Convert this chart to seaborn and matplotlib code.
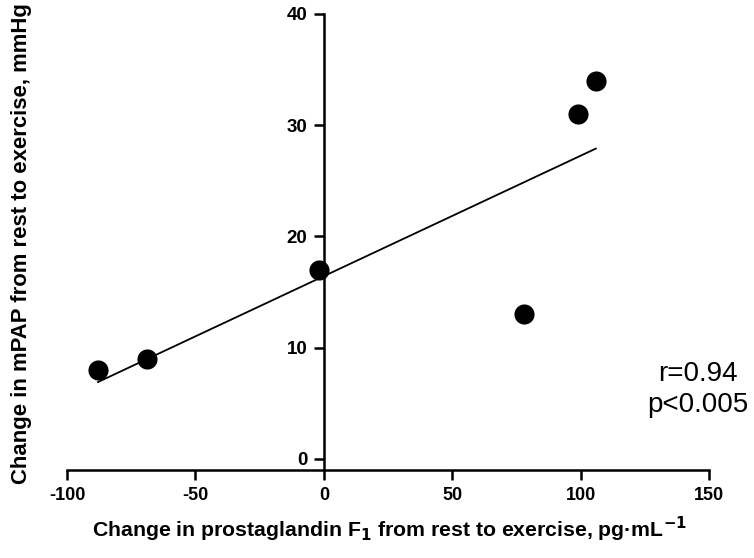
import matplotlib
matplotlib.use("Agg")
import matplotlib.pyplot as plt
import seaborn as sns
import pandas as pd

# Change from rest to exercise, one point per subject
pgf1_change = [-88, -69, -2, 78, 99, 106]
mpap_change = [8, 9, 17, 13, 31, 34]
x_ticks = [-100, -50, 0, 50, 100, 150]
y_ticks = [0, 10, 20, 30, 40]

df = pd.DataFrame({"pgf1": pgf1_change, "mpap": mpap_change})

sns.set_style("white")
plt.rcParams["font.family"] = ["Liberation Sans", "DejaVu Sans"]
plt.rcParams["mathtext.default"] = "bf"
plt.rcParams["axes.unicode_minus"] = False
plt.rcParams["text.color"] = "black"
plt.rcParams["xtick.color"] = "black"
plt.rcParams["ytick.color"] = "black"

fig = plt.figure(figsize=(7.54, 5.58), dpi=100)
ax = fig.add_axes([0.0889, 0.1577, 0.8515, 0.8173])

sns.regplot(data=df, x="pgf1", y="mpap", ax=ax, ci=None, truncate=True,
            scatter_kws={"s": 210, "color": "black", "edgecolor": "black",
                         "linewidths": 0, "alpha": 1, "zorder": 3},
            line_kws={"color": "black", "linewidth": 1.3})

ax.set_xlim(-100, 150)
ax.set_ylim(-1, 40)
ax.set_xticks(x_ticks)
ax.set_yticks(y_ticks)

for side in ("top", "right"):
    ax.spines[side].set_visible(False)
ax.spines["left"].set_position(("data", 0))
ax.spines["left"].set_bounds(-1, 40)
for side in ("left", "bottom"):
    ax.spines[side].set_linewidth(1.8)
    ax.spines[side].set_color("black")
ax.tick_params(axis="both", which="major", direction="out", length=7,
               width=1.8, color="black", labelcolor="black",
               bottom=True, left=True)
ax.tick_params(axis="y", pad=5, labelsize=13.5)
ax.tick_params(axis="x", pad=5, labelsize=13)
ax.set_xlabel("")
ax.set_ylabel("")

fig.canvas.draw()
for lbl in ax.get_xticklabels() + ax.get_yticklabels():
    lbl.set_fontweight("bold")

fig.text(0.517, 0.052,
         r"Change in prostaglandin F$_\mathbf{1}$ from rest to exercise, pg·mL$^\mathbf{-1}$",
         ha="center", va="center", fontweight="bold", fontsize=15.3)
fig.text(0.029, 0.563, "Change in mPAP from rest to exercise, mmHg",
         ha="center", va="center", rotation=90, fontweight="bold", fontsize=15.9)

fig.text(0.925, 0.33, "r=0.94", ha="center", va="center", fontsize=20)
fig.text(0.925, 0.275, "p<0.005", ha="center", va="center", fontsize=20)

fig.savefig("out.png", dpi=100)
